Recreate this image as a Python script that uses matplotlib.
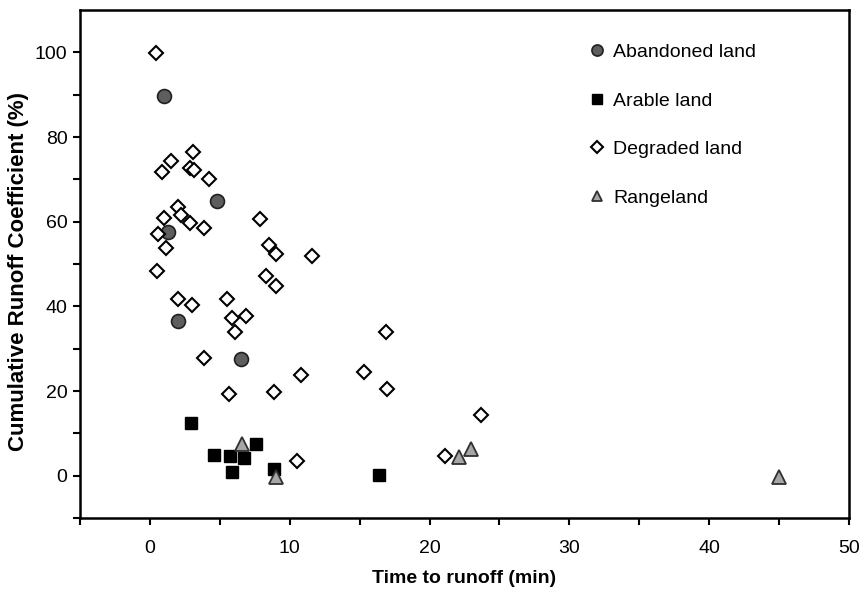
import matplotlib
matplotlib.use("Agg")
import matplotlib.pyplot as plt

plt.rcParams["font.family"] = ["Liberation Sans", "DejaVu Sans"]

# Time to runoff (min) and cumulative runoff coefficient (%) per land use
abandoned_x = [1.0, 4.8, 1.3, 2.0, 6.5]
abandoned_y = [89.8, 65.0, 57.6, 36.5, 27.5]

arable_x = [2.95, 4.6, 5.7, 6.7, 7.6, 5.9, 8.9, 16.4]
arable_y = [12.5, 4.9, 4.7, 4.2, 7.5, 0.9, 1.6, 0.2]

degraded_x = [0.45, 1.5, 3.05, 0.85, 2.85, 3.15, 4.25, 2.0, 2.25, 2.85,
              3.9, 1.0, 0.55, 1.15, 7.85, 8.55, 9.05, 11.6, 0.5, 2.0,
              3.0, 5.5, 5.85, 6.9, 6.1, 8.3, 9.0, 3.85, 16.9, 15.3,
              10.8, 16.95, 5.65, 8.85, 10.5, 23.7, 21.1]
degraded_y = [99.9, 74.3, 76.5, 71.7, 72.7, 72.3, 70.0, 63.5, 61.6, 59.7,
              58.6, 60.8, 57.1, 53.7, 60.6, 54.6, 52.4, 51.9, 48.3, 41.8,
              40.3, 41.7, 37.3, 37.6, 34.0, 47.2, 44.8, 27.9, 34.0, 24.5,
              23.8, 20.5, 19.3, 19.7, 3.5, 14.4, 4.6]

range_x = [6.6, 9.05, 22.1, 23.0, 45.0]
range_y = [7.5, -0.3, 4.5, 6.3, -0.2]

fig = plt.figure(figsize=(8.63, 5.92), dpi=100)
ax = fig.add_axes([80 / 863, 74 / 592, 769 / 863, 508 / 592])

ax.plot(abandoned_x, abandoned_y, ls="none", marker="o", ms=10,
        mfc="#5e5e5e", mec="#202020", mew=1.2, label="Abandoned land", zorder=3)
ax.plot(arable_x, arable_y, ls="none", marker="s", ms=8.5,
        mfc="black", mec="black", mew=1.0, label="Arable land", zorder=3)
ax.plot(degraded_x, degraded_y, ls="none", marker="D", ms=7.3,
        mfc="white", mec="black", mew=1.5, label="Degraded land", zorder=4)
ax.plot(range_x, range_y, ls="none", marker="^", ms=9.5,
        mfc="#a6a6a6", mec="#303030", mew=1.3, label="Rangeland", zorder=5)

ax.set_xlim(-5, 50)
ax.set_ylim(-10, 110)

xt = list(range(-5, 51, 5))
ax.set_xticks(xt)
ax.set_xticklabels([str(v) if v >= 0 and v % 10 == 0 else "" for v in xt])
yt = list(range(-10, 101, 10))
ax.set_yticks(yt)
ax.set_yticklabels([str(v) if v >= 0 and v % 20 == 0 else "" for v in yt])

ax.tick_params(axis="both", direction="out", length=5, width=1.5, labelsize=14)
ax.tick_params(axis="x", pad=11)
ax.tick_params(axis="y", pad=4)
for sp in ax.spines.values():
    sp.set_linewidth(1.8)

ax.set_xlabel("Time to runoff (min)", fontsize=14, fontweight="bold", labelpad=9)
ax.set_ylabel("Cumulative Runoff Coefficient (%)", fontsize=16,
              fontweight="bold")
ax.yaxis.set_label_coords(-0.066, 0.485)

ax.legend(loc="upper left", bbox_to_anchor=(0.652, 0.95), frameon=False,
          fontsize=14, markerscale=0.8, handlelength=0.8, handletextpad=0.45,
          labelspacing=1.6, borderaxespad=0)

fig.savefig("out.png", dpi=100)
